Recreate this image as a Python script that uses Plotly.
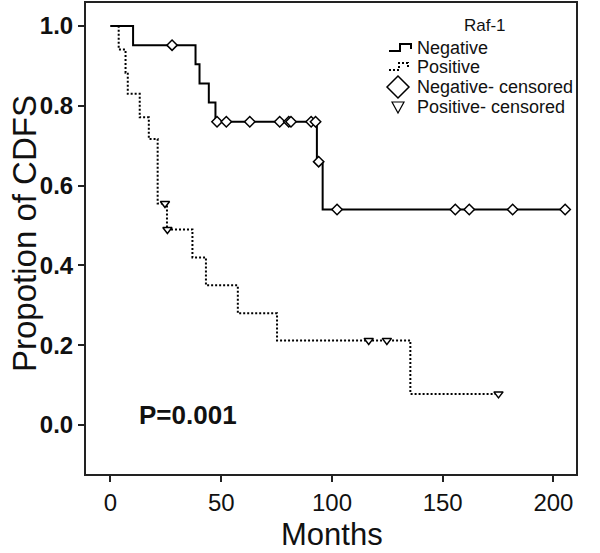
import plotly.graph_objects as go

# ---- data (months, cumulative proportion) ----
neg_time = [0, 10.2, 38.4, 40.2, 44.4, 47.4, 93.2, 95.8, 205.3]
neg_surv = [1.0, 0.952, 0.904, 0.856, 0.808, 0.760, 0.660, 0.540, 0.540]
neg_cens_time = [27.8, 48.1, 52.3, 62.9, 76.4, 80.5, 81.5, 90.6, 92.6, 94.0,
                 102.3, 155.7, 162.0, 181.6, 205.3]
neg_cens_surv = [0.952, 0.760, 0.760, 0.760, 0.760, 0.760, 0.760, 0.760, 0.760, 0.660,
                 0.540, 0.540, 0.540, 0.540, 0.540]

pos_time = [0, 3.7, 6.8, 7.8, 13.2, 17.3, 21.3, 25.5, 37.0, 43.1, 57.5, 75.2, 135.4, 175.2]
pos_surv = [1.0, 0.941, 0.883, 0.830, 0.771, 0.717, 0.555, 0.490, 0.420, 0.350, 0.280,
            0.212, 0.078, 0.078]
pos_cens_time = [24.6, 25.7, 116.6, 124.8, 175.2]
pos_cens_surv = [0.555, 0.490, 0.212, 0.212, 0.078]

x_ticks = [0, 50, 100, 150, 200]
y_ticks = [0.0, 0.2, 0.4, 0.6, 0.8, 1.0]
y_tick_text = ["0.0", "0.2", "0.4", "0.6", "0.8", "1.0"]

legend_title = "Raf-1"
legend_labels = ["Negative", "Positive", "Negative- censored", "Positive- censored"]

W, H = 600, 553
L, R, T, B = 86, 24, 3, 79
FONT = "Liberation Sans, Arial, sans-serif"

def px(xp):
    return (xp - L) / (W - L - R)

def py(yp):
    return (H - B - yp) / (H - T - B)

fig = go.Figure()
fig.add_trace(go.Scatter(x=neg_time, y=neg_surv, mode="lines", line_shape="hv",
                         line=dict(color="black", width=2), showlegend=False))
fig.add_trace(go.Scatter(x=pos_time, y=pos_surv, mode="lines", line_shape="hv",
                         line=dict(color="black", width=2, dash="2px,2px"), showlegend=False))
fig.add_trace(go.Scatter(x=neg_cens_time, y=neg_cens_surv, mode="markers",
                         marker=dict(symbol="diamond", size=8, color="white",
                                     line=dict(color="black", width=1.5)), showlegend=False))
fig.add_trace(go.Scatter(x=pos_cens_time, y=pos_cens_surv, mode="markers",
                         marker=dict(symbol="triangle-down", size=8, color="white",
                                     line=dict(color="black", width=1.5)), showlegend=False))

# ---- custom legend ----
ann = []
shapes = []
rows_y = [48, 67, 87, 107]
ann.append(dict(text=legend_title, x=px(485), y=py(26), xref="paper", yref="paper",
                showarrow=False, xanchor="center", yanchor="middle",
                font=dict(family=FONT, size=17, color="#111")))
for lab, yy in zip(legend_labels, rows_y):
    ann.append(dict(text=lab, x=px(415), y=py(yy), xref="paper", yref="paper",
                    showarrow=False, xanchor="left", yanchor="middle",
                    font=dict(family=FONT, size=18, color="#111")))

def path(points):
    return "M " + " L ".join(f"{px(a):.5f},{py(b):.5f}" for a, b in points)

y0 = rows_y[0]
shapes.append(dict(type="path", xref="paper", yref="paper",
                   path=path([(389, y0 + 3), (400, y0 + 3), (400, y0 - 4), (411, y0 - 4), (411, y0 + 1)]),
                   line=dict(color="black", width=2)))
y1 = rows_y[1]
shapes.append(dict(type="path", xref="paper", yref="paper",
                   path=path([(389, y1 + 3), (399, y1 + 3), (399, y1 - 4), (408, y1 - 4), (408, y1 + 2)]),
                   line=dict(color="black", width=2, dash="2px,2px")))
y2 = rows_y[2]
shapes.append(dict(type="path", xref="paper", yref="paper",
                   path=path([(387, y2), (398, y2 - 11), (409, y2), (398, y2 + 11)]) + " Z",
                   line=dict(color="black", width=1.5), fillcolor="white"))
y3 = rows_y[3]
shapes.append(dict(type="path", xref="paper", yref="paper",
                   path=path([(392, y3 - 5), (404, y3 - 5), (398, y3 + 6)]) + " Z",
                   line=dict(color="black", width=1.2), fillcolor="white"))

ann.append(dict(text="P=0.001", x=px(137), y=py(415), xref="paper", yref="paper",
                showarrow=False, xanchor="left", yanchor="middle",
                font=dict(family=FONT, size=26, color="#111", weight="bold")))
ann.append(dict(text="Months", x=px(332), y=py(534), xref="paper", yref="paper",
                showarrow=False, xanchor="center", yanchor="middle",
                font=dict(family=FONT, size=31, color="#111")))
ann.append(dict(text="Propotion of CDFS", x=px(24), y=py(234), xref="paper", yref="paper",
                showarrow=False, xanchor="center", yanchor="middle", textangle=-90,
                font=dict(family=FONT, size=33, color="#111")))

fig.update_layout(
    width=W, height=H,
    margin=dict(l=L, r=R, t=T, b=B, autoexpand=False),
    paper_bgcolor="white", plot_bgcolor="white",
    annotations=ann, shapes=shapes,
    xaxis=dict(range=[-11.06, 210.2], tickvals=x_ticks, ticks="outside", ticklen=6,
               tickwidth=1.5, tickcolor="#222", showline=True, mirror=True,
               linecolor="#222", linewidth=2, showgrid=False, zeroline=False,
               automargin=False,
               tickfont=dict(family=FONT, size=24, color="#111")),
    yaxis=dict(range=[-0.1228, 1.0576], tickvals=y_ticks, ticktext=y_tick_text,
               ticks="outside", ticklen=6, tickwidth=1.5, tickcolor="#222",
               showline=True, mirror=True, linecolor="#222", linewidth=2,
               showgrid=False, zeroline=False, automargin=False,
               tickfont=dict(family=FONT, size=24, color="#111", weight="bold")),
)

fig.write_html("out.html", config={"displayModeBar": False},
               post_script="document.body.style.margin='0';document.body.style.overflow='hidden';")
